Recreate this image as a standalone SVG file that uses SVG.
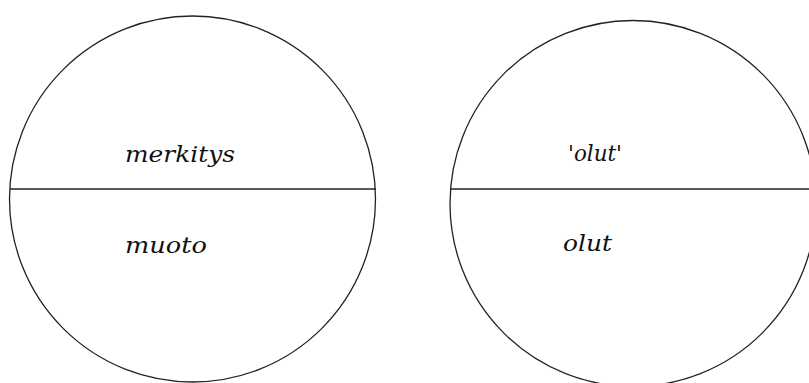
<svg xmlns="http://www.w3.org/2000/svg" width="809" height="383" viewBox="0 0 809 383">
<style>
.c{fill:none;stroke:#222;stroke-width:1.3}
.d{stroke:#222;stroke-width:1.6}
.t{font-family:"DejaVu Serif","Liberation Serif",serif;font-style:italic;font-size:23px;fill:#111}
</style>
<rect width="809" height="383" fill="#fff"/>
<g id="sign-general">
<circle class="c" cx="192.5" cy="199" r="183"/>
<line class="d" x1="10" y1="189" x2="376" y2="189"/>
<text class="t" x="125" y="162" textLength="110" lengthAdjust="spacingAndGlyphs">merkitys</text>
<text class="t" x="125" y="253" textLength="82" lengthAdjust="spacingAndGlyphs">muoto</text>
</g>
<g id="sign-olut">
<circle class="c" cx="633" cy="203.5" r="183"/>
<line class="d" x1="450" y1="189" x2="809" y2="189"/>
<text class="t" x="568" y="161" textLength="54" lengthAdjust="spacingAndGlyphs">'olut'</text>
<text class="t" x="563" y="251" textLength="49" lengthAdjust="spacingAndGlyphs">olut</text>
</g>
<g id="connectors"/>
</svg>
